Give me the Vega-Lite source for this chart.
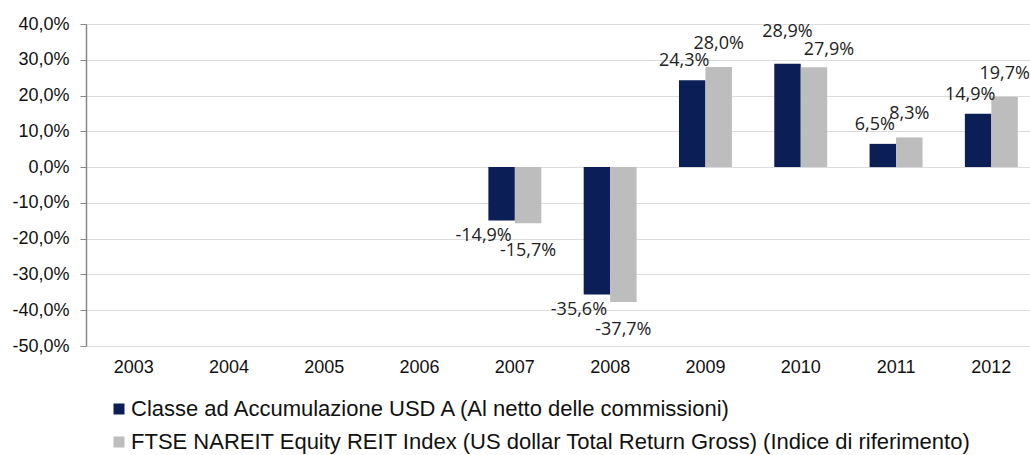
{
  "$schema": "https://vega.github.io/schema/vega-lite/v6.json",
  "width": 944,
  "height": 322,
  "autosize": {"type": "none"},
  "padding": {"left": 86, "top": 24, "right": 0, "bottom": 109},
  "background": "white",
  "config": {
    "locale": {"number": {"decimal": ",", "thousands": ".", "grouping": [3], "currency": ["", "€"], "minus": "-"}},
    "view": {"stroke": null},
    "font": "Liberation Sans"
  },
  "data": {
    "values": [
      {"year": "2007", "series": "Classe ad Accumulazione USD A (Al netto delle commissioni)", "value": -0.149},
      {"year": "2007", "series": "FTSE NAREIT Equity REIT Index (US dollar Total Return Gross) (Indice di riferimento)", "value": -0.157},
      {"year": "2008", "series": "Classe ad Accumulazione USD A (Al netto delle commissioni)", "value": -0.356},
      {"year": "2008", "series": "FTSE NAREIT Equity REIT Index (US dollar Total Return Gross) (Indice di riferimento)", "value": -0.377},
      {"year": "2009", "series": "Classe ad Accumulazione USD A (Al netto delle commissioni)", "value": 0.243},
      {"year": "2009", "series": "FTSE NAREIT Equity REIT Index (US dollar Total Return Gross) (Indice di riferimento)", "value": 0.280},
      {"year": "2010", "series": "Classe ad Accumulazione USD A (Al netto delle commissioni)", "value": 0.289},
      {"year": "2010", "series": "FTSE NAREIT Equity REIT Index (US dollar Total Return Gross) (Indice di riferimento)", "value": 0.279},
      {"year": "2011", "series": "Classe ad Accumulazione USD A (Al netto delle commissioni)", "value": 0.065},
      {"year": "2011", "series": "FTSE NAREIT Equity REIT Index (US dollar Total Return Gross) (Indice di riferimento)", "value": 0.083},
      {"year": "2012", "series": "Classe ad Accumulazione USD A (Al netto delle commissioni)", "value": 0.149},
      {"year": "2012", "series": "FTSE NAREIT Equity REIT Index (US dollar Total Return Gross) (Indice di riferimento)", "value": 0.197}
    ]
  },
  "encoding": {
    "x": {
      "field": "year", "type": "nominal",
      "scale": {"domain": ["2003","2004","2005","2006","2007","2008","2009","2010","2011","2012"], "range": [0, 953], "paddingInner": 0, "paddingOuter": 0},
      "axis": {"title": null, "domain": false, "ticks": false, "labelAngle": 0, "labelPadding": 12, "labelFontSize": 18, "labelColor": "#111", "grid": false}
    },
    "y": {
      "field": "value", "type": "quantitative",
      "scale": {"domain": [-0.5, 0.4], "nice": false, "zero": false},
      "axis": {"title": null, "values": [-0.5,-0.4,-0.3,-0.2,-0.1,0,0.1,0.2,0.3,0.4], "format": ".1%", "domainColor": "#888", "domainWidth": 1.5, "tickColor": "#888", "tickSize": 6, "labelFontSize": 18, "labelColor": "#111", "labelPadding": 11, "gridColor": "#dcdcdc", "gridWidth": 1}
    }
  },
  "layer": [
    {
      "mark": {"type": "bar"},
      "encoding": {
        "xOffset": {"field": "series", "type": "nominal", "scale": {"paddingInner": 0, "paddingOuter": 0.8}},
        "color": {
          "field": "series", "type": "nominal",
          "scale": {"domain": ["Classe ad Accumulazione USD A (Al netto delle commissioni)", "FTSE NAREIT Equity REIT Index (US dollar Total Return Gross) (Indice di riferimento)"], "range": ["#0b1f56", "#bdbdbd"]},
          "legend": {"title": null, "orient": "none", "legendX": 22, "legendY": 374, "direction": "vertical", "symbolType": "square", "symbolSize": 121, "symbolStrokeWidth": 0, "labelFontSize": 22, "labelFont": "Liberation Sans", "labelColor": "#111", "rowPadding": 11, "labelOffset": 1, "labelLimit": 0, "padding": 0}
        }
      }
    },
    {
      "data": {"values": [{"z": 0}]},
      "mark": {"type": "rule", "color": "#888", "strokeWidth": 1.5},
      "encoding": {"x": null, "y": {"datum": 0}}
    },
    {
      "data": {"values": [{"year": "2004"},{"year": "2005"},{"year": "2006"},{"year": "2007"},{"year": "2008"},{"year": "2009"},{"year": "2010"},{"year": "2011"},{"year": "2012"}]},
      "mark": {"type": "rule", "color": "#888", "strokeWidth": 1},
      "encoding": {"x": {"field": "year", "type": "nominal", "bandPosition": 0}, "y": {"datum": 0}, "y2": {"datum": -0.012}}
    },
    {
      "transform": [{"filter": "datum.value >= 0 && indexof(datum.series, 'Classe') == 0 && datum.year != '2010'"}],
      "mark": {"type": "text", "font": "Open Sans", "fontSize": 18, "color": "#222", "baseline": "middle", "dy": -19, "dx": -8},
      "encoding": {"xOffset": {"field": "series", "type": "nominal"}, "text": {"field": "value", "type": "quantitative", "format": ".1%"}}
    },
    {
      "transform": [{"filter": "datum.value >= 0 && indexof(datum.series, 'Classe') == 0 && datum.year == '2010'"}],
      "mark": {"type": "text", "font": "Open Sans", "fontSize": 18, "color": "#222", "baseline": "middle", "dy": -32},
      "encoding": {"xOffset": {"field": "series", "type": "nominal"}, "text": {"field": "value", "type": "quantitative", "format": ".1%"}}
    },
    {
      "transform": [{"filter": "datum.value >= 0 && indexof(datum.series, 'FTSE') == 0 && datum.year != '2010'"}],
      "mark": {"type": "text", "font": "Open Sans", "fontSize": 18, "color": "#222", "baseline": "middle", "dy": -23},
      "encoding": {"xOffset": {"field": "series", "type": "nominal"}, "text": {"field": "value", "type": "quantitative", "format": ".1%"}}
    },
    {
      "transform": [{"filter": "datum.value >= 0 && indexof(datum.series, 'FTSE') == 0 && datum.year == '2010'"}],
      "mark": {"type": "text", "font": "Open Sans", "fontSize": 18, "color": "#222", "baseline": "middle", "dy": -17, "dx": 15},
      "encoding": {"xOffset": {"field": "series", "type": "nominal"}, "text": {"field": "value", "type": "quantitative", "format": ".1%"}}
    },
    {
      "transform": [{"filter": "datum.value < 0 && indexof(datum.series, 'Classe') == 0"}],
      "mark": {"type": "text", "font": "Open Sans", "fontSize": 18, "color": "#222", "baseline": "middle", "dy": 16, "dx": -18},
      "encoding": {"xOffset": {"field": "series", "type": "nominal"}, "text": {"field": "value", "type": "quantitative", "format": ".1%"}}
    },
    {
      "transform": [{"filter": "datum.value < 0 && indexof(datum.series, 'FTSE') == 0"}],
      "mark": {"type": "text", "font": "Open Sans", "fontSize": 18, "color": "#222", "baseline": "middle", "dy": 28},
      "encoding": {"xOffset": {"field": "series", "type": "nominal"}, "text": {"field": "value", "type": "quantitative", "format": ".1%"}}
    }
  ]
}
